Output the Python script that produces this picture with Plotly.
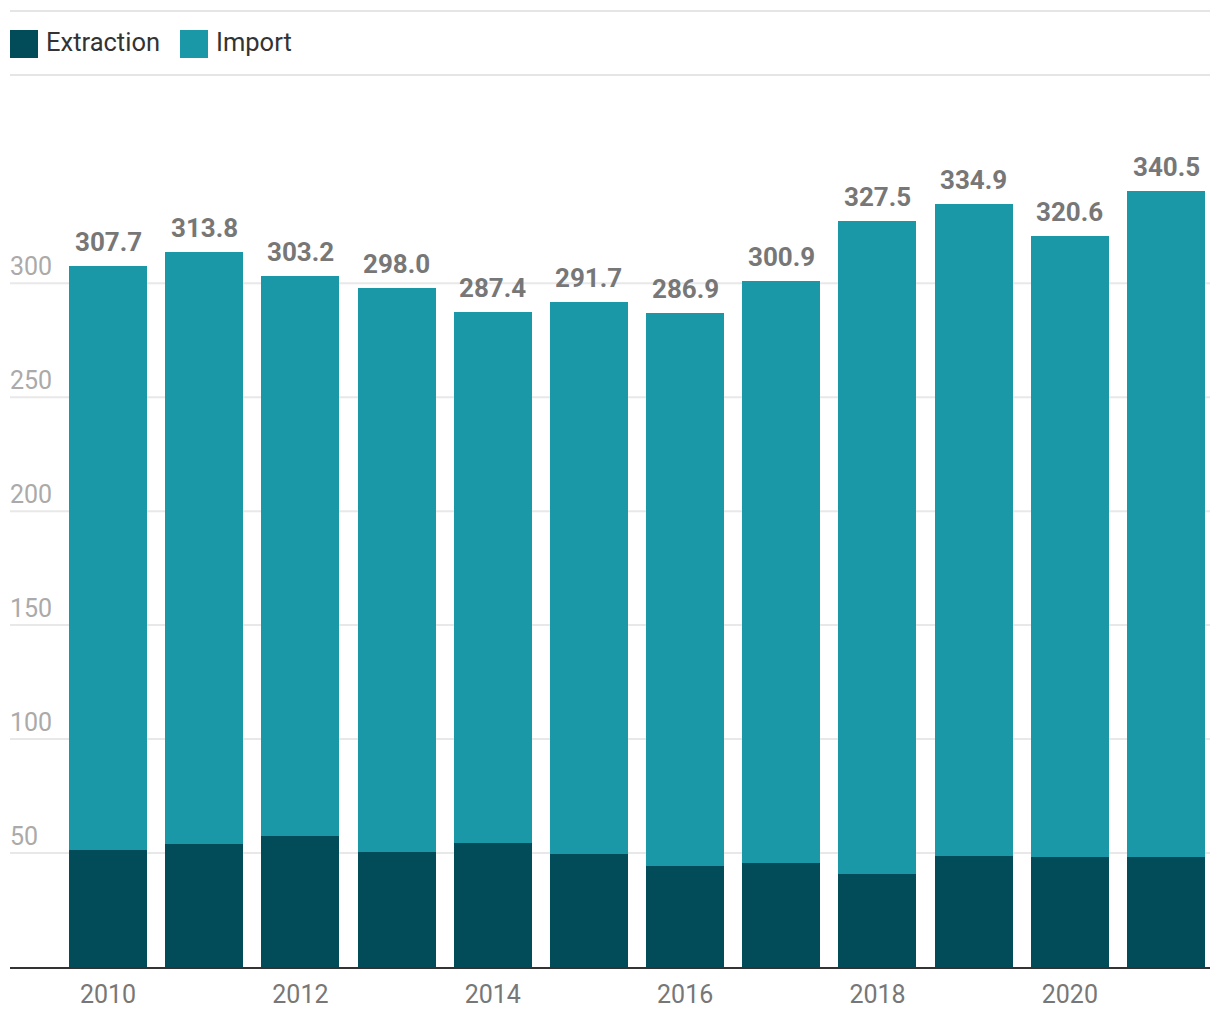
import plotly.graph_objects as go

years = [2010, 2011, 2012, 2013, 2014, 2015, 2016, 2017, 2018, 2019, 2020, 2021]
totals = [307.7, 313.8, 303.2, 298.0, 287.4, 291.7, 286.9, 300.9, 327.5, 334.9, 320.6, 340.5]
extraction = [51.4, 54.1, 57.3, 50.6, 54.5, 49.4, 44.4, 45.7, 40.9, 48.8, 48.4, 48.4]
imports = [round(t - e, 1) for t, e in zip(totals, extraction)]
y_ticks = [50, 100, 150, 200, 250, 300]
x_ticks = [2010, 2012, 2014, 2016, 2018, 2020]
series_names = ["Extraction", "Import"]

C_EXT = "#024c5a"
C_IMP = "#1b98a8"
FONT = "Roboto"
FS = 26

# page body has an 8px margin; work in screen coords and convert
OFF = 8
W, H = 1220 - 2 * OFF, 1020 - 2 * OFF
PLOT_L, PLOT_R, PLOT_T, PLOT_B = 10, 1210, 100, 967.3  # screen coords
ml, mr, mt, mb = PLOT_L - OFF, (W + OFF) - PLOT_R, PLOT_T - OFF, (H + OFF) - PLOT_B
plot_h = PLOT_B - PLOT_T
plot_w = PLOT_R - PLOT_L

def py(sy):
    return (PLOT_B - sy) / plot_h
def px(sx):
    return (sx - PLOT_L) / plot_w

fig = go.Figure()
fig.add_trace(go.Bar(x=years, y=extraction, name=series_names[0], marker=dict(color=C_EXT, line=dict(width=0)), showlegend=False))
fig.add_trace(go.Bar(x=years, y=imports, name=series_names[1], marker=dict(color=C_IMP, line=dict(width=0)), showlegend=False))

annotations = []
for yr, t in zip(years, totals):
    annotations.append(dict(x=yr, y=t, xref="x", yref="y", text=f"{t:.1f}", showarrow=False,
                            yanchor="bottom", yshift=7,
                            font=dict(family=FONT, size=FS, color="#777777", weight="bold")))
for v in y_ticks:
    annotations.append(dict(x=0, y=v, xref="paper", yref="y", text=str(v), showarrow=False,
                            xanchor="left", yanchor="bottom", yshift=0, xshift=-2,
                            font=dict(family=FONT, size=FS - 1, color="#aaaaaa")))

shapes = []
for v in y_ticks:
    shapes.append(dict(type="line", xref="paper", yref="y", x0=0, x1=1, y0=v, y1=v,
                       line=dict(color="#e8e8e8", width=2), layer="below"))
for sy in [11, 75]:
    shapes.append(dict(type="line", xref="paper", yref="paper", x0=0, x1=1, y0=py(sy), y1=py(sy),
                       line=dict(color="#e5e5e5", width=2)))

legend_items = [(series_names[0], C_EXT, 10, 44), (series_names[1], C_IMP, 180, 214)]
for name, col, sx, tx in legend_items:
    shapes.append(dict(type="rect", xref="paper", yref="paper", x0=px(sx), x1=px(sx + 28),
                       y0=py(58), y1=py(30), fillcolor=col, line=dict(width=0)))
    annotations.append(dict(x=px(tx), y=py(42), xref="paper", yref="paper", text=name, showarrow=False,
                            xanchor="left", yanchor="middle",
                            font=dict(family=FONT, size=FS - 0.5, color="#333333")))

fig.update_layout(
    width=W, height=H,
    margin=dict(l=ml, r=mr, t=mt, b=mb, pad=0),
    paper_bgcolor="white", plot_bgcolor="white",
    barmode="stack", bargap=0.189,
    annotations=annotations, shapes=shapes,
    xaxis=dict(range=[2008.981, 2021.457], tickvals=x_ticks, ticktext=[str(x) for x in x_ticks],
               showgrid=False, zeroline=False, showline=True, linecolor="#333333", linewidth=2,
               ticks="", tickfont=dict(family=FONT, size=FS - 1, color="#777777"), ticklabelstandoff=4),
    yaxis=dict(range=[0, plot_h / 2.28], showticklabels=False, showgrid=False, zeroline=False, showline=False),
    font=dict(family=FONT),
)

fig.write_html("out.html")
